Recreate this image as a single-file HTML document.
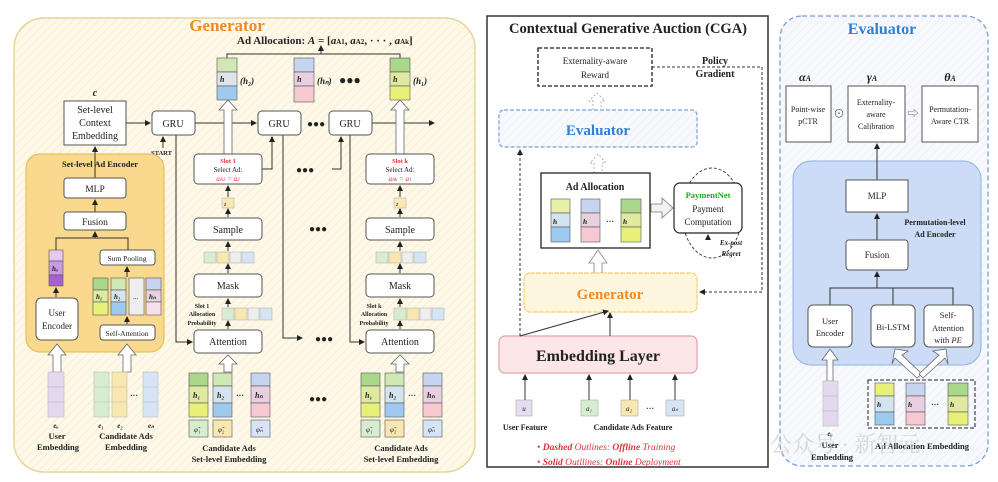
<!DOCTYPE html>
<html><head><meta charset="utf-8"><style>
html,body{margin:0;padding:0;background:#fff}
svg{display:block}
text{font-family:"Liberation Serif","Noto Serif CJK SC",serif;fill:#222}
.b{font-weight:bold}
.bx{fill:#fff;stroke:#555;stroke-width:1}
.ln{stroke:#333;stroke-width:1;fill:none}
.dl{stroke:#333;stroke-width:1;fill:none;stroke-dasharray:3,2}
</style></head><body>
<svg width="998" height="482" viewBox="0 0 998 482" xmlns="http://www.w3.org/2000/svg">
<defs>
<marker id="a" markerWidth="6" markerHeight="6" refX="5" refY="3" orient="auto"><path d="M0,0 L6,3 L0,6 z" fill="#222"/></marker>
<pattern id="hy" width="6" height="6" patternUnits="userSpaceOnUse" patternTransform="rotate(45)"><rect width="6" height="6" fill="#fdf8e8"/><line x1="0" y1="0" x2="0" y2="6" stroke="#f1e7c4" stroke-width="1"/></pattern>
<pattern id="hb" width="6" height="6" patternUnits="userSpaceOnUse" patternTransform="rotate(45)"><rect width="6" height="6" fill="#f7f9fd"/><line x1="0" y1="0" x2="0" y2="6" stroke="#e3e9f4" stroke-width="1"/></pattern>
</defs>

<!-- ============ GENERATOR PANEL ============ -->
<rect x="14" y="18" width="461" height="454" rx="30" fill="url(#hy)" stroke="#e6d59a" stroke-width="1.5"/>
<text x="227" y="31" text-anchor="middle" class="b" font-size="17" style="fill:#f08a24">Generator</text>
<text x="237" y="44" class="b" font-size="11">Ad Allocation: <tspan font-style="italic">A</tspan> = [<tspan font-style="italic">a</tspan><tspan font-size="7">A1</tspan>, <tspan font-style="italic">a</tspan><tspan font-size="7">A2</tspan>, · · · , <tspan font-style="italic">a</tspan><tspan font-size="7">Ak</tspan>]</text>
<path class="ln" d="M227,58 V54 H400 V58 M321,54 V46" marker-end="url(#a)"/>
<rect x="217" y="58" width="20" height="14" fill="#cfe8b4" stroke="#555" stroke-width=".6"/><rect x="217" y="72" width="20" height="14" fill="#dfe3ea" stroke="#555" stroke-width=".6"/><rect x="217" y="86" width="20" height="14" fill="#9ecaf0" stroke="#555" stroke-width=".6"/>
<text x="220" y="82" font-size="8" class="b" font-style="italic">h</text><text x="240" y="84" font-size="9" class="b" font-style="italic">(h₂)</text>
<rect x="294" y="58" width="20" height="14" fill="#c6d4f0" stroke="#555" stroke-width=".6"/><rect x="294" y="72" width="20" height="14" fill="#e8d0e0" stroke="#555" stroke-width=".6"/><rect x="294" y="86" width="20" height="16" fill="#f6c8d0" stroke="#555" stroke-width=".6"/>
<text x="297" y="82" font-size="8" class="b" font-style="italic">h</text><text x="317" y="84" font-size="9" class="b" font-style="italic">(hₙ)</text>
<text x="339" y="84" font-size="12" class="b">●●●</text>
<rect x="390" y="58" width="20" height="14" fill="#a9d88a" stroke="#555" stroke-width=".6"/><rect x="390" y="72" width="20" height="14" fill="#dfeaa0" stroke="#555" stroke-width=".6"/><rect x="390" y="86" width="20" height="14" fill="#e8f07a" stroke="#555" stroke-width=".6"/>
<text x="393" y="82" font-size="8" class="b" font-style="italic">h</text><text x="413" y="84" font-size="9" class="b" font-style="italic">(h₁)</text>

<text x="95" y="96" font-size="10" class="b" font-style="italic" text-anchor="middle">c</text>
<rect x="64" y="101" width="62" height="44" class="bx"/>
<text x="95" y="113" font-size="10" text-anchor="middle">Set-level</text>
<text x="95" y="126" font-size="10" text-anchor="middle">Context</text>
<text x="95" y="139" font-size="10" text-anchor="middle">Embedding</text>
<path class="ln" d="M126,123 H150" marker-end="url(#a)"/>
<rect x="152" y="111" width="43" height="24" rx="4" class="bx"/><text x="173" y="127" font-size="10" text-anchor="middle">GRU</text>
<rect x="258" y="111" width="43" height="24" rx="4" class="bx"/><text x="279" y="127" font-size="10" text-anchor="middle">GRU</text>
<rect x="329" y="111" width="43" height="24" rx="4" class="bx"/><text x="350" y="127" font-size="10" text-anchor="middle">GRU</text>
<path class="ln" d="M195,123 H256" marker-end="url(#a)"/>
<text x="307" y="127" font-size="10" class="b">●●●</text>
<path class="ln" d="M372,123 H434" marker-end="url(#a)"/>
<path class="ln" d="M163,148 V137" marker-end="url(#a)"/>
<text x="151" y="155" font-size="6.5" class="b">START</text>
<path class="ln" d="M176,135 V342 H192" marker-end="url(#a)"/>
<path class="ln" d="M283,135 V338 H302" marker-end="url(#a)"/>
<path class="ln" d="M350,135 V342 H364" marker-end="url(#a)"/>
<text x="315" y="342" font-size="10" class="b">●●●</text>
<path class="ln" d="M262,169 H272 V137" marker-end="url(#a)"/>
<path class="ln" d="M332,169 H341 V137" marker-end="url(#a)"/>
<text x="296" y="173" font-size="10" class="b">●●●</text>
<text x="309" y="232" font-size="10" class="b">●●●</text>
<text x="309" y="402" font-size="10" class="b">●●●</text>

<g id="col1">
<path d="M224,154 V110 H219 L228,100 L237,110 H232 V154 Z" fill="#fff" stroke="#666" stroke-width=".8"/>
<rect x="194" y="154" width="68" height="30" rx="4" class="bx"/>
<text x="228" y="172" font-size="7" text-anchor="middle">Select Ad:</text>
<path class="ln" d="M228,197 V186" marker-end="url(#a)"/>
<rect x="222" y="198" width="12" height="10" fill="#f8e7b0" stroke="#aaa" stroke-width=".5"/><text x="224" y="206" font-size="6" font-style="italic">z</text>
<path class="ln" d="M228,217 V209" marker-end="url(#a)"/>
<rect x="194" y="218" width="68" height="22" rx="4" class="bx"/><text x="228" y="233" font-size="10" text-anchor="middle">Sample</text>
<path class="ln" d="M228,251 V242" marker-end="url(#a)"/>
<rect x="204" y="252" width="12" height="11" fill="#d8ecd0" stroke="#aaa" stroke-width=".5"/><rect x="217" y="252" width="12" height="11" fill="#f8e7b0" stroke="#aaa" stroke-width=".5"/><rect x="230" y="252" width="11" height="11" fill="#eee" stroke="#aaa" stroke-width=".5"/><rect x="242" y="252" width="12" height="11" fill="#d6e4f6" stroke="#aaa" stroke-width=".5"/>
<path class="ln" d="M228,273 V264" marker-end="url(#a)"/>
<rect x="194" y="274" width="68" height="23" rx="4" class="bx"/><text x="228" y="289" font-size="10" text-anchor="middle">Mask</text>
<path class="ln" d="M228,307 V299" marker-end="url(#a)"/>
<rect x="222" y="308" width="12" height="12" fill="#d8ecd0" stroke="#aaa" stroke-width=".5"/><rect x="235" y="308" width="12" height="12" fill="#f8e7b0" stroke="#aaa" stroke-width=".5"/><rect x="248" y="308" width="11" height="12" fill="#eee" stroke="#aaa" stroke-width=".5"/><rect x="260" y="308" width="12" height="12" fill="#d6e4f6" stroke="#aaa" stroke-width=".5"/>
<path class="ln" d="M228,329 V321" marker-end="url(#a)"/>
<text x="202" y="316" font-size="6" class="b" text-anchor="middle">Allocation</text>
<text x="202" y="325" font-size="6" class="b" text-anchor="middle">Probability</text>
<rect x="194" y="330" width="68" height="23" rx="4" class="bx"/><text x="228" y="345" font-size="10" text-anchor="middle">Attention</text>
<path d="M224,372 V364 H219 L228,355 L237,364 H232 V372 Z" fill="#fff" stroke="#666" stroke-width=".8"/>
<rect x="189" y="373" width="19" height="13" fill="#a9d88a" stroke="#555" stroke-width=".6"/><rect x="189" y="386" width="19" height="17" fill="#dfeaa0" stroke="#555" stroke-width=".6"/><rect x="189" y="403" width="19" height="14" fill="#e8f07a" stroke="#555" stroke-width=".6"/>
<rect x="213" y="373" width="19" height="13" fill="#cfe8b4" stroke="#555" stroke-width=".6"/><rect x="213" y="386" width="19" height="17" fill="#d4e4ee" stroke="#555" stroke-width=".6"/><rect x="213" y="403" width="19" height="14" fill="#9ecaf0" stroke="#555" stroke-width=".6"/>
<rect x="251" y="373" width="19" height="13" fill="#c6d4f0" stroke="#555" stroke-width=".6"/><rect x="251" y="386" width="19" height="17" fill="#e8d0e0" stroke="#555" stroke-width=".6"/><rect x="251" y="403" width="19" height="14" fill="#f6c8d0" stroke="#555" stroke-width=".6"/>
<text x="193" y="398" font-size="8" class="b" font-style="italic">h₁</text><text x="217" y="398" font-size="8" class="b" font-style="italic">h₂</text><text x="255" y="398" font-size="8" class="b" font-style="italic">hₙ</text>
<text x="236" y="398" font-size="8" class="b">···</text>
<rect x="189" y="420" width="19" height="17" fill="#d8ecd0" stroke="#555" stroke-width=".6"/><rect x="213" y="420" width="19" height="17" fill="#f8e7b0" stroke="#555" stroke-width=".6"/><rect x="251" y="420" width="19" height="17" fill="#d6e4f6" stroke="#555" stroke-width=".6"/>
<text x="194" y="432" font-size="7" font-style="italic">φ̃₁</text><text x="218" y="432" font-size="7" font-style="italic">φ̃₂</text><text x="256" y="432" font-size="7" font-style="italic">φ̃ₙ</text>
<text x="229" y="451" font-size="8.5" class="b" text-anchor="middle">Candidate Ads</text>
<text x="229" y="462" font-size="8.5" class="b" text-anchor="middle">Set-level Embedding</text>
</g>
<use href="#col1" x="172"/>
<text x="228" y="163" font-size="6.5" text-anchor="middle" class="b" style="fill:#e0303a">Slot 1</text>
<text x="228" y="181" font-size="7" text-anchor="middle" font-style="italic" style="fill:#e0303a">a<tspan font-size="5">A1</tspan> = a<tspan font-size="5">2</tspan></text>
<text x="202" y="308" font-size="6" class="b" text-anchor="middle">Slot 1</text>
<text x="400" y="163" font-size="6.5" text-anchor="middle" class="b" style="fill:#e0303a">Slot k</text>
<text x="400" y="181" font-size="7" text-anchor="middle" font-style="italic" style="fill:#e0303a">a<tspan font-size="5">Ak</tspan> = a<tspan font-size="5">1</tspan></text>
<text x="374" y="308" font-size="6" class="b" text-anchor="middle">Slot k</text>

<rect x="26" y="154" width="138" height="198" rx="14" fill="#f8d98e" stroke="#e8b84a" stroke-width="1"/>
<text x="100" y="167" font-size="8.5" class="b" text-anchor="middle">Set-level Ad Encoder</text>
<path class="ln" d="M95,178 V147" marker-end="url(#a)"/>
<rect x="64" y="178" width="62" height="20" rx="3" class="bx"/><text x="95" y="192" font-size="9.5" text-anchor="middle">MLP</text>
<path class="ln" d="M95,212 V200" marker-end="url(#a)"/>
<rect x="64" y="212" width="62" height="18" rx="3" class="bx"/><text x="95" y="225" font-size="9.5" text-anchor="middle">Fusion</text>
<path class="ln" d="M56,250 V238 H128 V250 M95,238 V232" marker-end="url(#a)"/>
<rect x="49" y="250" width="14" height="11" fill="#e7c8ee" stroke="#555" stroke-width=".6"/><rect x="49" y="261" width="14" height="14" fill="#c99adf" stroke="#555" stroke-width=".6"/><rect x="49" y="275" width="14" height="11" fill="#a95fd0" stroke="#555" stroke-width=".6"/>
<text x="52" y="271" font-size="7" class="b" font-style="italic">hᵤ</text>
<path class="ln" d="M56,297 V288" marker-end="url(#a)"/>
<rect x="36" y="298" width="42" height="42" rx="5" class="bx"/><text x="57" y="316" font-size="9" text-anchor="middle">User</text><text x="57" y="329" font-size="9" text-anchor="middle">Encoder</text>
<rect x="100" y="250" width="55" height="15" rx="3" class="bx"/><text x="127" y="261" font-size="7.5" text-anchor="middle">Sum Pooling</text>
<path class="ln" d="M127,277 V267" marker-end="url(#a)"/>
<rect x="93" y="278" width="15" height="12" fill="#a9d88a" stroke="#555" stroke-width=".6"/><rect x="93" y="290" width="15" height="12" fill="#dfeaa0" stroke="#555" stroke-width=".6"/><rect x="93" y="302" width="15" height="13" fill="#e8f07a" stroke="#555" stroke-width=".6"/>
<rect x="111" y="278" width="15" height="12" fill="#cfe8b4" stroke="#555" stroke-width=".6"/><rect x="111" y="290" width="15" height="12" fill="#d4e4ee" stroke="#555" stroke-width=".6"/><rect x="111" y="302" width="15" height="13" fill="#9ecaf0" stroke="#555" stroke-width=".6"/>
<rect x="129" y="278" width="15" height="37" fill="#eee" stroke="#555" stroke-width=".6"/>
<rect x="146" y="278" width="15" height="12" fill="#c6d4f0" stroke="#555" stroke-width=".6"/><rect x="146" y="290" width="15" height="12" fill="#e8d0e0" stroke="#555" stroke-width=".6"/><rect x="146" y="302" width="15" height="13" fill="#f6e0ea" stroke="#555" stroke-width=".6"/>
<text x="96" y="299" font-size="7" class="b" font-style="italic">h₁</text><text x="114" y="299" font-size="7" class="b" font-style="italic">h₂</text><text x="133" y="299" font-size="7">...</text><text x="149" y="299" font-size="7" class="b" font-style="italic">hₙ</text>
<path class="ln" d="M127,324 V317" marker-end="url(#a)"/>
<rect x="100" y="325" width="55" height="15" rx="3" class="bx"/><text x="127" y="336" font-size="7.5" text-anchor="middle">Self-Attention</text>
<path d="M53,372 V355 H48 L57,344 L66,355 H61 V372 Z" fill="#fff" stroke="#666" stroke-width=".8"/>
<path d="M123,372 V355 H118 L127,344 L136,355 H131 V372 Z" fill="#fff" stroke="#666" stroke-width=".8"/>
<rect x="48" y="372" width="16" height="15" fill="#e4d8ee" stroke="#bbb" stroke-width=".6"/><rect x="48" y="387" width="16" height="15" fill="#e4d8ee" stroke="#bbb" stroke-width=".6"/><rect x="48" y="402" width="16" height="15" fill="#e4d8ee" stroke="#bbb" stroke-width=".6"/>
<rect x="94" y="372" width="15" height="45" fill="#d8ecd0" stroke="#bbb" stroke-width=".6"/><rect x="112" y="372" width="15" height="45" fill="#f8e7b0" stroke="#bbb" stroke-width=".6"/><rect x="143" y="372" width="15" height="45" fill="#d6e4f6" stroke="#bbb" stroke-width=".6"/>
<line x1="94" y1="387" x2="127" y2="387" stroke="#bbb" stroke-width=".6"/><line x1="94" y1="402" x2="127" y2="402" stroke="#bbb" stroke-width=".6"/><line x1="143" y1="387" x2="158" y2="387" stroke="#bbb" stroke-width=".6"/><line x1="143" y1="402" x2="158" y2="402" stroke="#bbb" stroke-width=".6"/>
<text x="130" y="398" font-size="8" class="b">···</text>
<text x="56" y="428" font-size="7" class="b" font-style="italic" text-anchor="middle">eᵤ</text>
<text x="101" y="428" font-size="7" class="b" font-style="italic" text-anchor="middle">e₁</text><text x="120" y="428" font-size="7" class="b" font-style="italic" text-anchor="middle">e₂</text><text x="151" y="428" font-size="7" class="b" font-style="italic" text-anchor="middle">eₙ</text>
<text x="57" y="439" font-size="8.5" class="b" text-anchor="middle">User</text><text x="58" y="450" font-size="8.5" class="b" text-anchor="middle">Embedding</text>
<text x="126" y="439" font-size="8.5" class="b" text-anchor="middle">Candidate Ads</text><text x="126" y="450" font-size="8.5" class="b" text-anchor="middle">Embedding</text>

<!-- ============ CGA PANEL ============ -->
<rect x="487" y="16" width="281" height="451" fill="#fff" stroke="#333" stroke-width="1.5"/>
<text x="628" y="33" font-size="14.5" class="b" text-anchor="middle">Contextual Generative Auction (CGA)</text>
<rect x="538" y="48" width="114" height="38" fill="#fff" stroke="#222" stroke-width="1.3" stroke-dasharray="4,2"/>
<text x="595" y="64" font-size="9" text-anchor="middle">Externality-aware</text><text x="595" y="78" font-size="9" text-anchor="middle">Reward</text>
<text x="715" y="64" font-size="10" class="b" text-anchor="middle">Policy</text><text x="715" y="77" font-size="10" class="b" text-anchor="middle">Gradient</text>
<path class="dl" d="M652,67 H762 V292 H700" marker-end="url(#a)"/>
<path d="M593,110 V101 H589 L597,93 L605,101 H601 V110" fill="none" stroke="#aaa" stroke-width=".9" stroke-dasharray="2,2"/>
<rect x="499" y="110" width="198" height="37" rx="5" fill="url(#hb)" stroke="#7aa0d8" stroke-width="1.2" stroke-dasharray="4,2"/>
<text x="598" y="135" font-size="15" class="b" text-anchor="middle" style="fill:#2f7fd8">Evaluator</text>
<path d="M594,173 V163 H590 L598,154 L606,163 H602 V173" fill="none" stroke="#aaa" stroke-width=".9" stroke-dasharray="2,2"/>
<rect x="541" y="173" width="109" height="75" fill="#fff" stroke="#222" stroke-width="1.3"/>
<text x="595" y="190" font-size="10" class="b" text-anchor="middle">Ad Allocation</text>
<rect x="551" y="199" width="19" height="14" fill="#e8f0a8" stroke="#555" stroke-width=".6"/><rect x="551" y="213" width="19" height="14" fill="#d4e4ee" stroke="#555" stroke-width=".6"/><rect x="551" y="227" width="19" height="15" fill="#9ecaf0" stroke="#555" stroke-width=".6"/>
<rect x="581" y="199" width="19" height="14" fill="#c6d4f0" stroke="#555" stroke-width=".6"/><rect x="581" y="213" width="19" height="14" fill="#e8d0e0" stroke="#555" stroke-width=".6"/><rect x="581" y="227" width="19" height="15" fill="#f6c8d0" stroke="#555" stroke-width=".6"/>
<rect x="621" y="199" width="20" height="14" fill="#a9d88a" stroke="#555" stroke-width=".6"/><rect x="621" y="213" width="20" height="14" fill="#dfeaa0" stroke="#555" stroke-width=".6"/><rect x="621" y="227" width="20" height="15" fill="#e8f07a" stroke="#555" stroke-width=".6"/>
<text x="553" y="224" font-size="7.5" class="b" font-style="italic">h</text><text x="583" y="224" font-size="7.5" class="b" font-style="italic">h</text><text x="623" y="224" font-size="7.5" class="b" font-style="italic">h</text>
<text x="606" y="224" font-size="8" class="b">···</text>
<path d="M651,204 H662 V198 L673,208 L662,218 V212 H651 Z" fill="#f2f2f2" stroke="#777" stroke-width=".8"/>
<ellipse cx="712" cy="213" rx="30" ry="45" fill="none" stroke="#333" stroke-width=".9" stroke-dasharray="3,2"/>
<rect x="674" y="183" width="68" height="50" rx="6" fill="#fff" stroke="#222" stroke-width="1.2"/>
<text x="708" y="198" font-size="8.5" class="b" text-anchor="middle" style="fill:#1fa82a">PaymentNet</text>
<text x="708" y="212" font-size="9" text-anchor="middle">Payment</text><text x="708" y="225" font-size="9" text-anchor="middle">Computation</text>
<path class="ln" d="M708,240 V235" marker-end="url(#a)"/>
<text x="731" y="245" font-size="7" class="b" font-style="italic" text-anchor="middle">Ex-post</text><text x="731" y="256" font-size="7" class="b" font-style="italic" text-anchor="middle">Regret</text>
<path d="M594,273 V263 H589 L598,250 L607,263 H602 V273 Z" fill="#fff" stroke="#888" stroke-width=".8"/>
<rect x="524" y="273" width="173" height="39" rx="6" fill="#fdf6dc" stroke="#f0d070" stroke-width="1.2" stroke-dasharray="5,1"/>
<text x="610" y="299" font-size="15" class="b" text-anchor="middle" style="fill:#f08a24">Generator</text>
<rect x="499" y="336" width="198" height="37" rx="6" fill="#fde6e8" stroke="#e8a0a8" stroke-width="1.2"/>
<text x="598" y="361" font-size="16" class="b" text-anchor="middle">Embedding Layer</text>
<path class="dl" d="M520,336 V150" marker-end="url(#a)"/>
<path class="ln" d="M520,336 L608,311" marker-end="url(#a)"/>
<path class="ln" d="M610,336 V313" marker-end="url(#a)"/>
<rect x="516" y="400" width="16" height="16" fill="#e4dcef" stroke="#aaa" stroke-width=".6"/><text x="524" y="411" font-size="7" text-anchor="middle" font-style="italic">u</text>
<rect x="581" y="400" width="17" height="16" fill="#d8ecd0" stroke="#aaa" stroke-width=".6"/><text x="589" y="411" font-size="7" text-anchor="middle" font-style="italic">a₁</text>
<rect x="621" y="400" width="17" height="16" fill="#f8e7b0" stroke="#aaa" stroke-width=".6"/><text x="629" y="411" font-size="7" text-anchor="middle" font-style="italic">a₂</text>
<text x="646" y="411" font-size="8" class="b">···</text>
<rect x="666" y="400" width="18" height="16" fill="#d6e4f6" stroke="#aaa" stroke-width=".6"/><text x="675" y="411" font-size="7" text-anchor="middle" font-style="italic">aₙ</text>
<path class="ln" d="M525,400 V375" marker-end="url(#a)"/><path class="ln" d="M589,400 V375" marker-end="url(#a)"/><path class="ln" d="M630,400 V375" marker-end="url(#a)"/><path class="ln" d="M675,400 V375" marker-end="url(#a)"/>
<text x="525" y="430" font-size="8" class="b" text-anchor="middle">User Feature</text>
<text x="633" y="430" font-size="8" class="b" text-anchor="middle">Candidate Ads Feature</text>
<text x="537" y="450" font-size="9.5" font-style="italic" style="fill:#e0303a">• <tspan font-weight="bold">Dashed</tspan> Outlines: <tspan font-weight="bold">Offline</tspan> Training</text>
<text x="537" y="465" font-size="9.5" font-style="italic" style="fill:#e0303a">• <tspan font-weight="bold">Solid</tspan> Outllines: <tspan font-weight="bold">Online</tspan> Deployment</text>

<!-- ============ EVALUATOR PANEL ============ -->
<rect x="780" y="16" width="208" height="450" rx="22" fill="url(#hb)" stroke="#7aa0d8" stroke-width="1.3" stroke-dasharray="5,3"/>
<text x="882" y="34" font-size="16" class="b" text-anchor="middle" style="fill:#2f7fd8">Evaluator</text>
<text x="805" y="81" font-size="12" class="b" font-style="italic" text-anchor="middle">α<tspan font-size="8">A</tspan></text>
<text x="872" y="81" font-size="12" class="b" font-style="italic" text-anchor="middle">γ<tspan font-size="8">A</tspan></text>
<text x="950" y="81" font-size="12" class="b" font-style="italic" text-anchor="middle">θ<tspan font-size="8">A</tspan></text>
<rect x="786" y="86" width="45" height="56" class="bx"/><text x="808" y="112" font-size="8" text-anchor="middle">Point-wise</text><text x="808" y="124" font-size="8" text-anchor="middle">pCTR</text>
<text x="839" y="117" font-size="11" text-anchor="middle">⊙</text>
<rect x="848" y="86" width="57" height="56" class="bx"/><text x="876" y="105" font-size="8" text-anchor="middle">Externality-</text><text x="876" y="117" font-size="8" text-anchor="middle">aware</text><text x="876" y="129" font-size="8" text-anchor="middle">Calibration</text>
<text x="913" y="117" font-size="11" text-anchor="middle" style="fill:#666">⇨</text>
<rect x="922" y="86" width="56" height="56" class="bx"/><text x="950" y="112" font-size="8" text-anchor="middle">Permutation-</text><text x="950" y="124" font-size="8" text-anchor="middle">Aware CTR</text>
<rect x="793" y="161" width="188" height="204" rx="18" fill="#ccdcf6" stroke="#8fb0e0" stroke-width="1"/>
<path class="ln" d="M877,180 V144" marker-end="url(#a)"/>
<rect x="846" y="180" width="62" height="32" class="bx"/><text x="877" y="199" font-size="9" text-anchor="middle">MLP</text>
<text x="935" y="225" font-size="8" class="b" text-anchor="middle">Permutation-level</text><text x="935" y="237" font-size="8" class="b" text-anchor="middle">Ad Encoder</text>
<path class="ln" d="M877,240 V214" marker-end="url(#a)"/>
<rect x="846" y="240" width="62" height="30" rx="3" class="bx"/><text x="877" y="258" font-size="9" text-anchor="middle">Fusion</text>
<path class="ln" d="M830,305 V288 H953 V305 M893,288 V305 M877,288 V272" marker-end="url(#a)"/>
<rect x="808" y="305" width="44" height="42" rx="5" class="bx"/><text x="830" y="324" font-size="8.5" text-anchor="middle">User</text><text x="830" y="336" font-size="8.5" text-anchor="middle">Encoder</text>
<rect x="871" y="305" width="44" height="42" rx="5" class="bx"/><text x="893" y="330" font-size="8.5" text-anchor="middle">Bi-LSTM</text>
<rect x="924" y="305" width="49" height="42" rx="5" class="bx"/><text x="948" y="318" font-size="8.5" text-anchor="middle">Self-</text><text x="948" y="331" font-size="8.5" text-anchor="middle">Attention</text><text x="948" y="343" font-size="8.5" text-anchor="middle">with <tspan font-style="italic">PE</tspan></text>
<path d="M827,381 V360 H822 L830,349 L838,360 H833 V381 Z" fill="#fff" stroke="#666" stroke-width=".8"/>
<path d="M917,378 L895,358 L892,364 L895,349 L908,351 L902,355 L922,374 Z" fill="#fff" stroke="#666" stroke-width=".8"/>
<path d="M923,378 L945,358 L948,364 L946,349 L933,351 L939,355 L919,374 Z" fill="#fff" stroke="#666" stroke-width=".8"/>
<rect x="823" y="381" width="15" height="15" fill="#e4d8ee" stroke="#bbb" stroke-width=".6"/><rect x="823" y="396" width="15" height="15" fill="#e4d8ee" stroke="#bbb" stroke-width=".6"/><rect x="823" y="411" width="15" height="15" fill="#e4d8ee" stroke="#bbb" stroke-width=".6"/>
<rect x="868" y="380" width="107" height="48" fill="none" stroke="#222" stroke-width="1" stroke-dasharray="4,2"/>
<rect x="875" y="383" width="19" height="13" fill="#e8f07a" stroke="#555" stroke-width=".6"/><rect x="875" y="396" width="19" height="16" fill="#d4e4ee" stroke="#555" stroke-width=".6"/><rect x="875" y="412" width="19" height="13" fill="#9ecaf0" stroke="#555" stroke-width=".6"/>
<rect x="906" y="383" width="19" height="13" fill="#c6d4f0" stroke="#555" stroke-width=".6"/><rect x="906" y="396" width="19" height="16" fill="#e8d0e0" stroke="#555" stroke-width=".6"/><rect x="906" y="412" width="19" height="13" fill="#f6c8d0" stroke="#555" stroke-width=".6"/>
<rect x="948" y="383" width="20" height="13" fill="#a9d88a" stroke="#555" stroke-width=".6"/><rect x="948" y="396" width="20" height="16" fill="#dfeaa0" stroke="#555" stroke-width=".6"/><rect x="948" y="412" width="20" height="13" fill="#e8f07a" stroke="#555" stroke-width=".6"/>
<text x="877" y="407" font-size="7.5" class="b" font-style="italic">h</text><text x="908" y="407" font-size="7.5" class="b" font-style="italic">h</text><text x="950" y="407" font-size="7.5" class="b" font-style="italic">h</text>
<text x="931" y="407" font-size="8" class="b">···</text>
<text x="830" y="436" font-size="7" class="b" font-style="italic" text-anchor="middle">eᵤ</text>
<text x="830" y="448" font-size="8.5" class="b" text-anchor="middle">User</text><text x="832" y="460" font-size="8.5" class="b" text-anchor="middle">Embedding</text>
<text x="922" y="449" font-size="8.5" class="b" text-anchor="middle">Ad Allocation Embedding</text>
<text x="770" y="452" font-size="22" style="fill:#c8c8c8;opacity:.7" font-family="Noto Sans CJK SC, sans-serif">公众号 · 新智元</text>
</svg>
</body></html>
